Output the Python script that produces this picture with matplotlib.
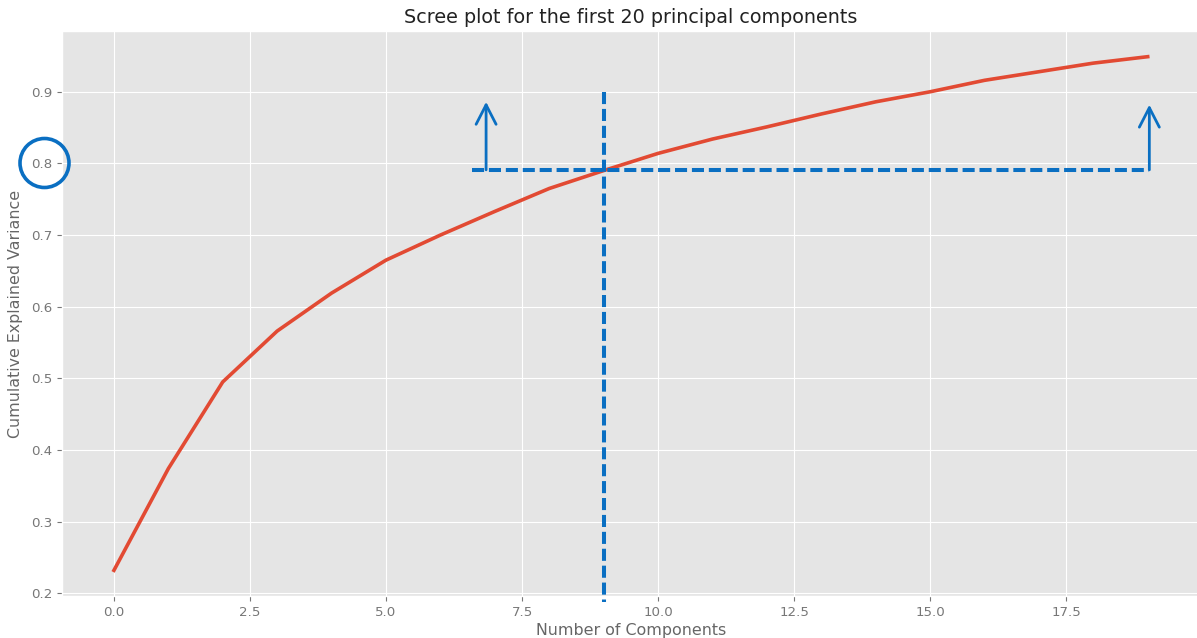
import matplotlib
matplotlib.use("Agg")
import matplotlib.pyplot as plt
from matplotlib.patches import Circle

plt.style.use("ggplot")

# cumulative explained variance of the first 20 components
components = list(range(20))
cum_variance = [0.232, 0.374, 0.495, 0.566, 0.619, 0.665, 0.700, 0.733, 0.765, 0.790,
                0.814, 0.834, 0.851, 0.869, 0.886, 0.900, 0.916, 0.928, 0.940, 0.949]

threshold = 0.791
cut_x = 9.0
marker_xs = [6.84, 19.03]
arrow_top = [0.886, 0.882]
blue = "#0A6FC2"

fig = plt.figure(figsize=(11.97, 6.38), dpi=100)
ax = fig.add_axes([0.052, 0.0658, 0.950, 0.8856])

ax.plot(components, cum_variance, color="#E24A33", lw=2.6)
ax.set_title("Scree plot for the first 20 principal components", fontsize=13.8, color="#222222")
ax.set_xlabel("Number of Components", fontsize=11.4, color="#666666", labelpad=3)
ax.set_ylabel("Cumulative Explained Variance", fontsize=11.4, color="#666666", labelpad=6)
ax.tick_params(labelsize=9.6, colors="#777777")
ax.set_yticks([0.2, 0.3, 0.4, 0.5, 0.6, 0.7, 0.8, 0.9])

# threshold guide lines (kept out of autoscaling)
ax.plot([6.58, marker_xs[1]], [threshold, threshold], color=blue, lw=2.9,
        linestyle=(0, (3, 1.2)), solid_capstyle="butt", scalex=False, scaley=False)
ax.plot([cut_x, cut_x], [0.9, 0.188], color=blue, lw=2.9,
        linestyle=(0, (3, 1.2)), clip_on=False, scalex=False, scaley=False)

for x, top in zip(marker_xs, arrow_top):
    ax.annotate("", xy=(x, top), xytext=(x, threshold),
                arrowprops=dict(arrowstyle="->, head_length=0.7, head_width=0.36",
                                color=blue, lw=2.0, mutation_scale=20,
                                shrinkA=0, shrinkB=0))

# ring around the 0.8 tick label
ring = Circle((0.445, 4.75), 0.245, transform=fig.dpi_scale_trans,
              fill=False, edgecolor=blue, lw=2.6)
fig.patches.append(ring)

fig.savefig("out.png", dpi=100)
